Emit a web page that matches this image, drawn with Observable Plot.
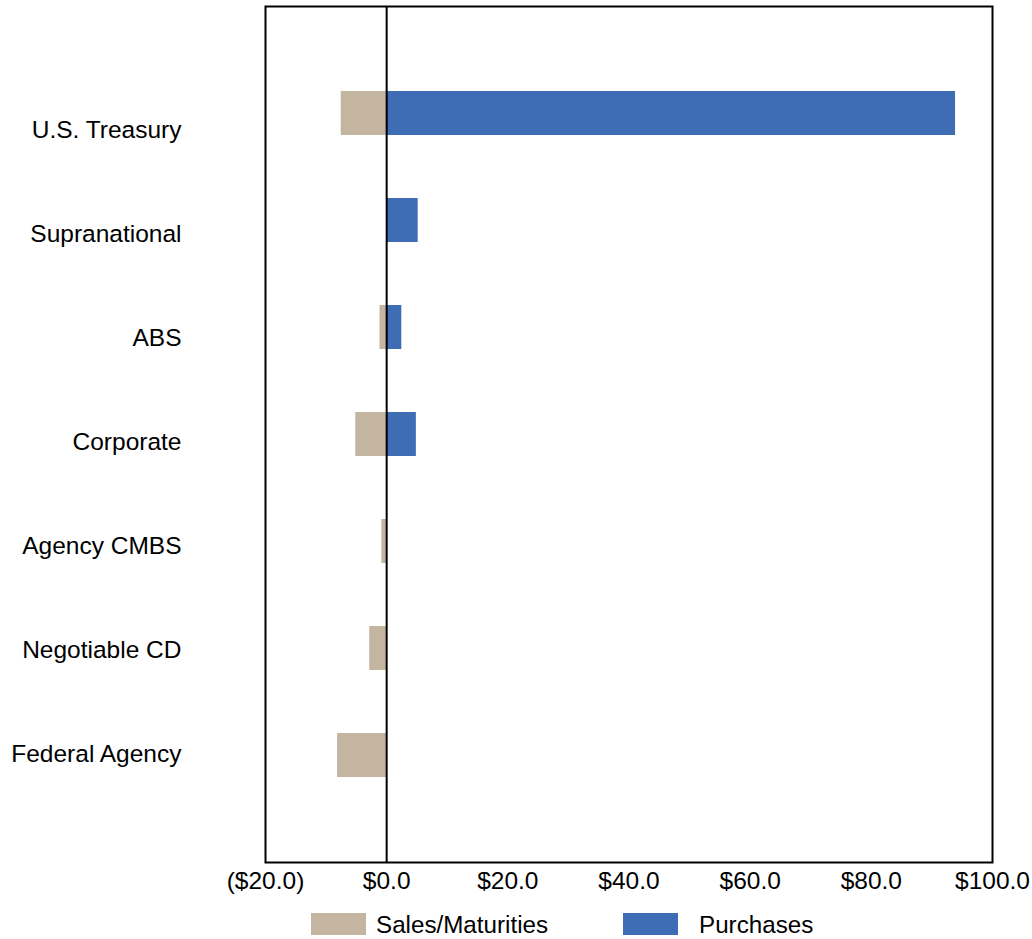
<!DOCTYPE html>
<html>
<head>
<meta charset="utf-8">
<script src="https://cdn.jsdelivr.net/npm/d3@7"></script>
<script src="https://cdn.jsdelivr.net/npm/@observablehq/plot@0.6"></script>
<style>
  html, body { margin: 0; padding: 0; background: #fff; }
  #wrap { position: relative; width: 1032px; height: 939px; font-family: "Liberation Sans", Arial, sans-serif; }
  #wrap > svg { position: absolute; left: 0; top: 0; }
  .sw { position: absolute; width: 55px; height: 22px; }
  .lt { position: absolute; font-size: 24.2px; color: #000; line-height: 24px; }
</style>
</head>
<body>
<div id="wrap"></div>
<script>
const categories = ["U.S. Treasury", "Supranational", "ABS", "Corporate", "Agency CMBS", "Negotiable CD", "Federal Agency"];
const salesMaturities = [-7.5, 0, -1.1, -5.1, -0.8, -2.8, -8.1];
const purchases = [93.9, 5.2, 2.5, 4.9, 0, 0, 0];
const xTicks = [-20, 0, 20, 40, 60, 80, 100];
const seriesNames = ["Sales/Maturities", "Purchases"];
const seriesColors = ["#C4B5A1", "#3E6CB5"];

const salesRows = categories.map((c, i) => ({category: c, value: salesMaturities[i]}));
const purchRows = categories.map((c, i) => ({category: c, value: purchases[i]}));

const fmt = v => v < 0 ? `($${Math.abs(v).toFixed(1)})` : `$${v.toFixed(1)}`;
const font = "'Liberation Sans', Arial, sans-serif";

const chart = Plot.plot({
  width: 1032,
  height: 939,
  marginLeft: 265,
  marginRight: 40,
  marginTop: 6,
  marginBottom: 77,
  style: { fontFamily: font, fontSize: "24.5px", color: "#000", background: "transparent" },
  x: { domain: [-20, 100], ticks: xTicks, tickFormat: fmt, tickSize: 0, tickPadding: 10, label: null },
  y: { domain: categories, paddingInner: 0.59, paddingOuter: 0.785, axis: null, label: null },
  marks: [
    Plot.barX(salesRows.filter(d => d.value !== 0), { x1: 0, x2: "value", y: "category", fill: seriesColors[0] }),
    Plot.barX(purchRows.filter(d => d.value !== 0), { x1: 0, x2: "value", y: "category", fill: seriesColors[1] }),
    Plot.ruleX([0], { stroke: "#000", strokeWidth: 2 }),
    Plot.frame({ stroke: "#000", strokeWidth: 2 }),
    Plot.axisX({ ticks: xTicks, tickFormat: fmt, tickSize: 0, tickPadding: 9, fontSize: 24.5, label: null })
  ]
});

// category labels (spaced slightly differently from the bars, as in the source)
const labels = Plot.plot({
  width: 1032,
  height: 939,
  marginLeft: 265,
  marginRight: 40,
  marginTop: 128,
  marginBottom: 184,
  style: { fontFamily: font, fontSize: "24.5px", color: "#000", background: "transparent" },
  x: { domain: [-20, 100], axis: null },
  y: { type: "point", domain: categories, padding: 0, axis: null },
  marks: [
    Plot.axisY({ tickSize: 0, tickPadding: 84, fontSize: 24.5, label: null })
  ]
});

const wrap = document.getElementById("wrap");
wrap.appendChild(chart);
wrap.appendChild(labels);

const legendPos = [{sw: 311, tx: 376}, {sw: 623, tx: 699}];
seriesNames.forEach((name, i) => {
  const s = document.createElement("div");
  s.className = "sw";
  s.style.left = legendPos[i].sw + "px";
  s.style.top = "913px";
  s.style.background = seriesColors[i];
  wrap.appendChild(s);
  const t = document.createElement("div");
  t.className = "lt";
  t.style.left = legendPos[i].tx + "px";
  t.style.top = "913px";
  t.textContent = name;
  wrap.appendChild(t);
});
</script>
</body>
</html>
